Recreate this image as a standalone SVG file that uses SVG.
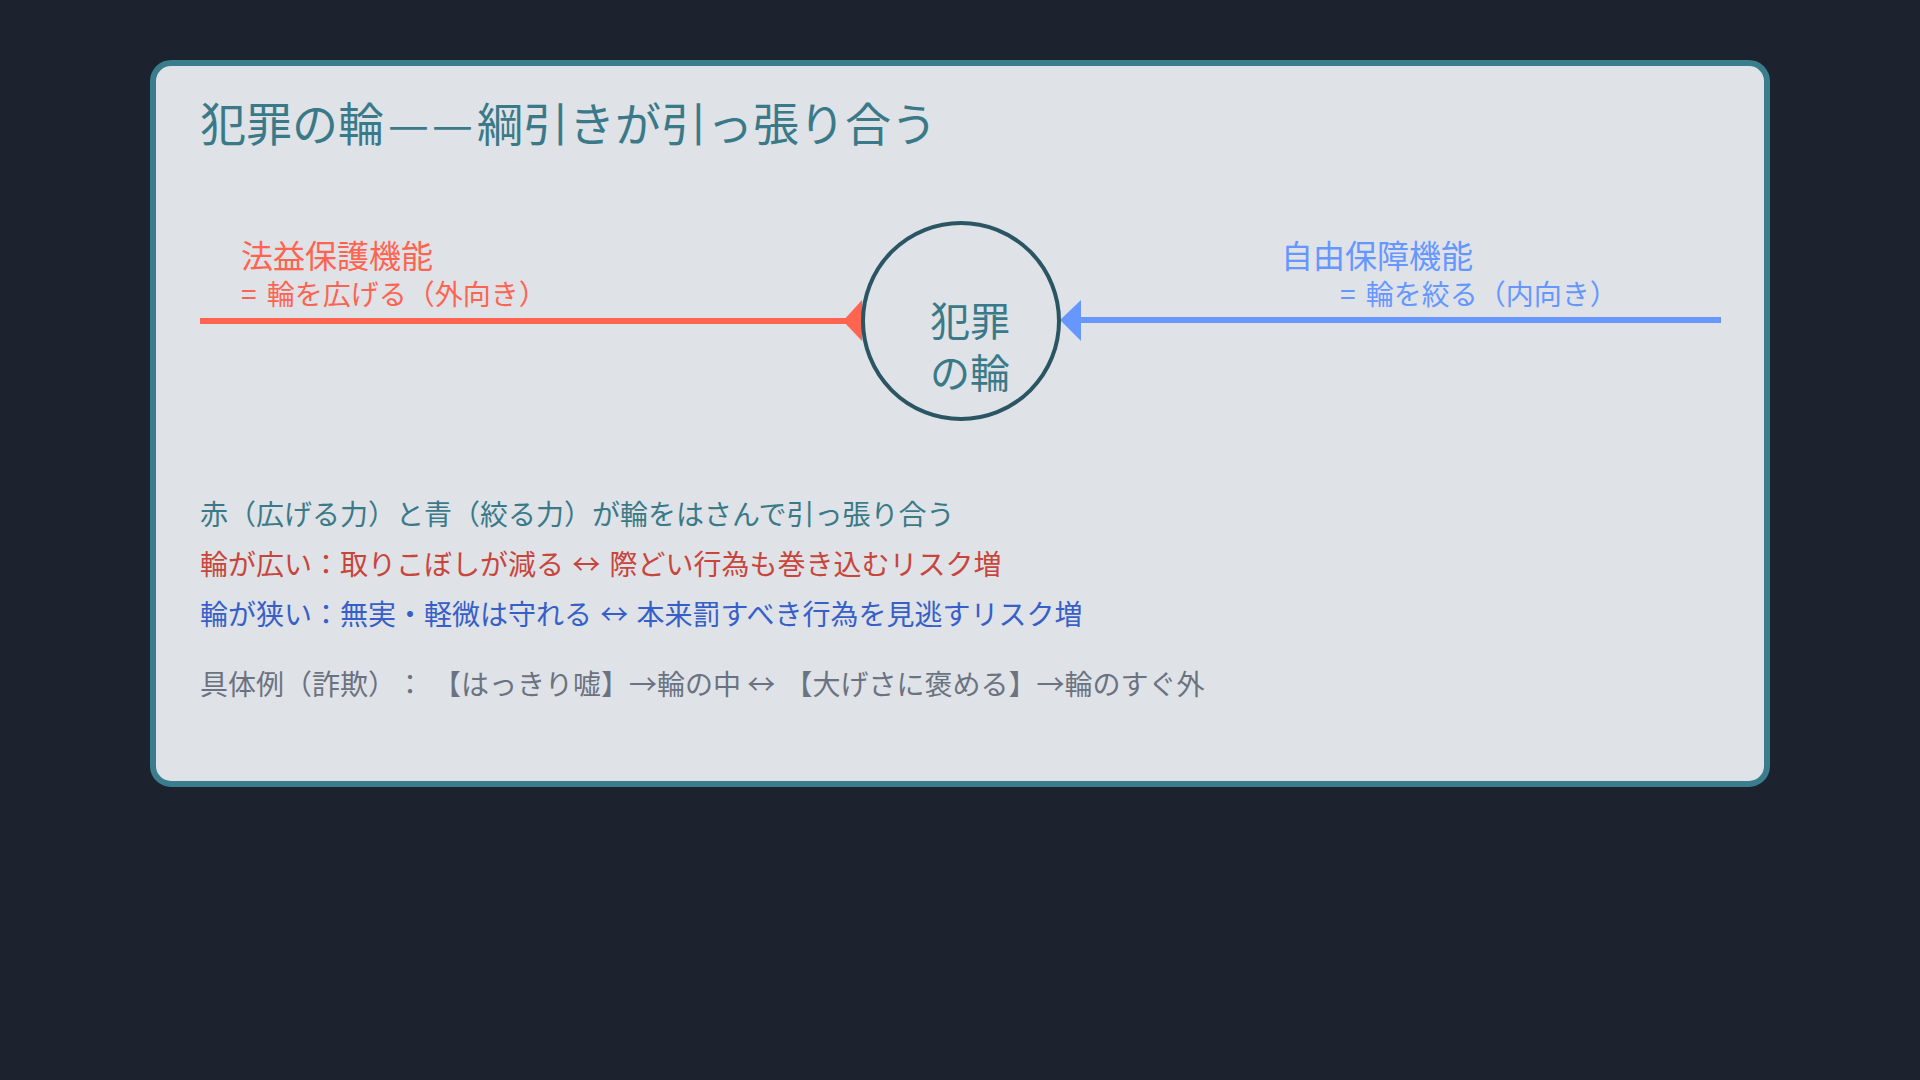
<svg xmlns="http://www.w3.org/2000/svg" width="1920" height="1080" viewBox="0 0 1920 1080">
  <style>
    text { font-family: "Noto Sans CJK JP", "Noto Sans", sans-serif; text-spacing-trim: space-all; }
    .title { font-size: 46px; fill: #3a7a88; }
    .lbl { font-size: 32px; }
    .sub { font-size: 28px; }
    .body { font-size: 28px; }
    .red { fill: #ff6450; }
    .blue { fill: #6697ff; }
    .teal { fill: #3a7a88; }
    .dred { fill: #c8453c; }
    .dblue { fill: #3660c8; }
    .gray { fill: #6b7280; }
  </style>
  <rect width="1920" height="1080" fill="#1c232e"/>
  <g id="card">
    <rect x="153" y="63" width="1614" height="721" rx="18" ry="18" fill="#dfe2e7" stroke="#3a7d8c" stroke-width="6"/>
  </g>
  <g id="title">
    <text class="title" x="200" y="141">犯罪の輪<tspan x="388" textLength="41" lengthAdjust="spacingAndGlyphs">—</tspan><tspan x="432" textLength="41" lengthAdjust="spacingAndGlyphs">—</tspan><tspan x="477">綱引きが引っ張り合う</tspan></text>
  </g>
  <g id="connectors">
    <line x1="200" y1="321" x2="856" y2="321" stroke="#ff6450" stroke-width="6"/>
    <polygon points="843,321 862,300 862,341" fill="#ff6450"/>
    <line x1="1074" y1="320" x2="1721" y2="320" stroke="#6697ff" stroke-width="6"/>
    <polygon points="1060,320 1081,300 1081,341" fill="#6697ff"/>
  </g>
  <g id="ring">
    <circle cx="961" cy="321" r="98" fill="none" stroke="#2a5563" stroke-width="4"/>
    <text class="teal" x="970" y="336" font-size="40" text-anchor="middle">犯罪</text>
    <text class="teal" x="970" y="388" font-size="40" text-anchor="middle">の輪</text>
  </g>
  <g id="protect">
    <text class="lbl red" x="241" y="268">法益保護機能</text>
    <text class="sub red" x="241" y="305">= <tspan dx="4">輪を広げる（外向き）</tspan></text>
  </g>
  <g id="liberty">
    <text class="lbl blue" x="1281" y="268">自由保障機能</text>
    <text class="sub blue" x="1340" y="305">= <tspan dx="4">輪を絞る（内向き）</tspan></text>
  </g>
  <g id="notes">
    <text class="body teal" x="200" y="525">赤（広げる力）と青（絞る力）が輪をはさんで引っ張り合う</text>
    <text class="body dred" x="200" y="575">輪が広い：取りこぼしが減る <tspan dx="2">↔</tspan> <tspan dx="3">際どい行為も巻き込むリスク増</tspan></text>
    <text class="body dblue" x="200" y="625">輪が狭い：無実・軽微は守れる <tspan dx="2">↔</tspan> <tspan dx="2">本来罰すべき行為を見逃すリスク増</tspan></text>
    <text class="body gray" x="200" y="695">具体例（詐欺）：<tspan dx="9">【はっきり嘘】→輪の中 ↔ </tspan><tspan dx="3">【大げさに褒める】→輪のすぐ外</tspan></text>
  </g>
</svg>
